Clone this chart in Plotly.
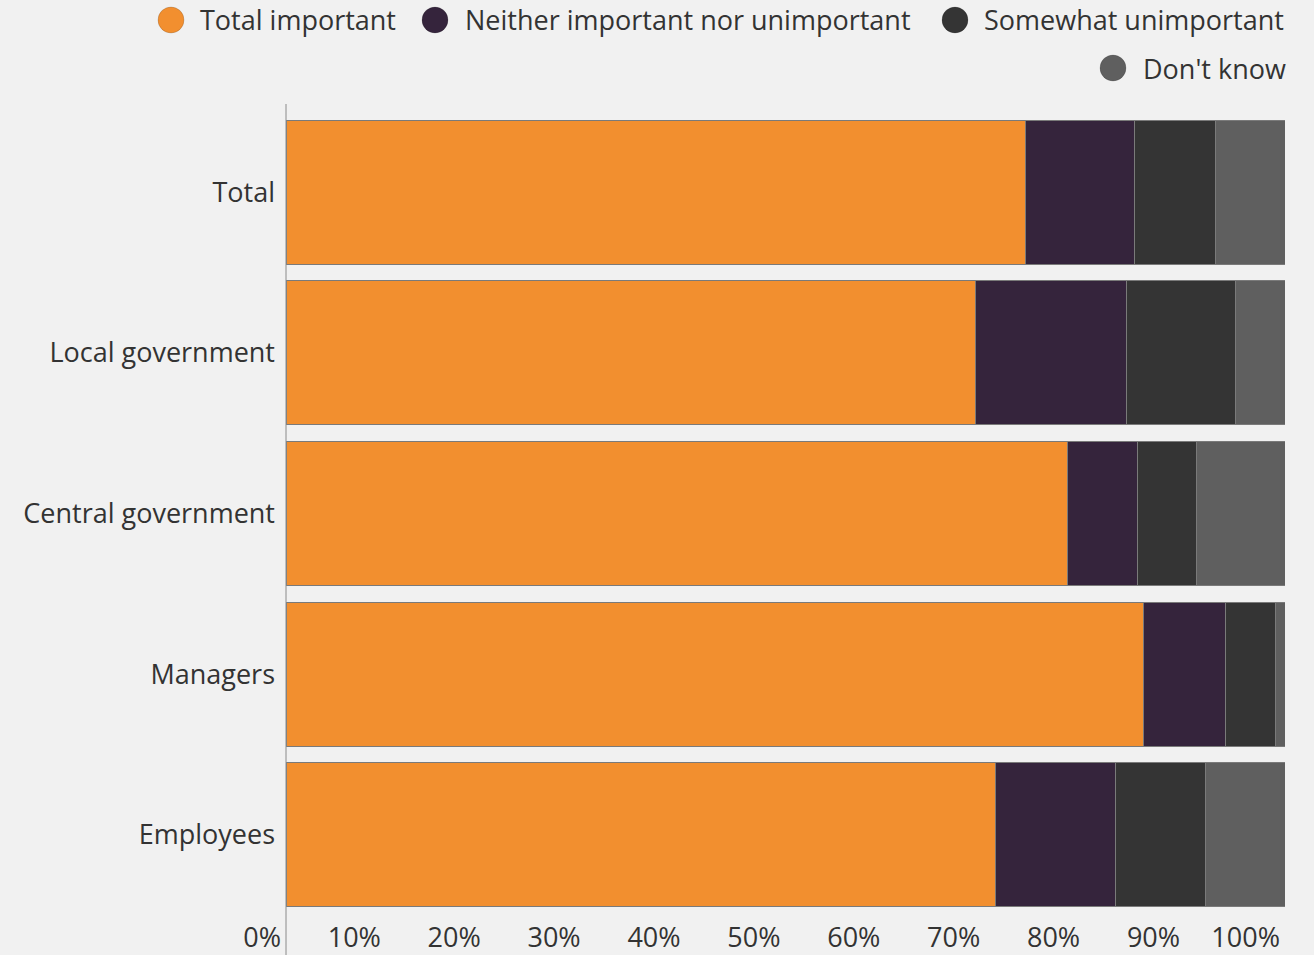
import plotly.graph_objects as go

categories = ["Total", "Local government", "Central government", "Managers", "Employees"]
series_names = ["Total important", "Neither important nor unimportant", "Somewhat unimportant", "Don't know"]
total_important = [74.0, 69.0, 78.2, 85.8, 71.0]
neither = [10.9, 15.1, 7.0, 8.2, 12.0]
somewhat_unimportant = [8.1, 10.9, 5.9, 5.0, 9.0]
dont_know = [7.0, 5.0, 8.9, 1.0, 8.0]
tick_values = [0, 10, 20, 30, 40, 50, 60, 70, 80, 90, 100]
tick_labels = ["0%", "10%", "20%", "30%", "40%", "50%", "60%", "70%", "80%", "90%", "100%"]

colors = ["#F28F2F", "#35243C", "#343434", "#5F5F5F"]
values = [total_important, neither, somewhat_unimportant, dont_know]

W, H = 1314, 955
ML, MR, MT, MB = 286, 29, 112, 40
PW, PH = W - ML - MR, H - MT - MB

def px_x(px):
    return (px - ML) / PW

def px_y(py):
    return (H - MB - py) / PH

fig = go.Figure()
for name, vals, col in zip(series_names, values, colors):
    fig.add_trace(go.Bar(
        y=categories, x=vals, name=name, orientation="h",
        marker=dict(color=col, line=dict(color="#7a7a7a", width=1)),
        showlegend=False, hoverinfo="x+y+name",
    ))

font_family = "Open Sans, Noto Sans, sans-serif"
text_color = "#333333"
FS = 27

# custom legend (circle markers, right-aligned wrapped rows)
legend_items = [
    (171, 20, 198),
    (435, 20, 463),
    (955, 20, 982),
    (1113, 68, 1141),
]
shapes = []
annotations = []
for (cx, cy, tx), name, col in zip(legend_items, series_names, colors):
    shapes.append(dict(
        type="circle", xref="paper", yref="paper",
        xsizemode="pixel", ysizemode="pixel",
        xanchor=px_x(cx), yanchor=px_y(cy),
        x0=-13, x1=13, y0=-13, y1=13,
        fillcolor=col, line=dict(color="rgba(0,0,0,0.15)", width=1),
    ))
    annotations.append(dict(
        text=name, xref="paper", yref="paper",
        x=px_x(tx), y=px_y(cy), xanchor="left", yanchor="middle",
        showarrow=False, font=dict(family=font_family, size=FS, color=text_color),
    ))

# vertical axis line extending beyond plot area
shapes.append(dict(
    type="line", xref="paper", yref="paper",
    x0=0, x1=0, y0=px_y(104), y1=px_y(955),
    line=dict(color="#8a8a8a", width=1),
))

fig.update_layout(
    barmode="stack",
    bargap=0.104,
    width=W, height=H,
    margin=dict(l=ML, r=MR, t=MT, b=MB, pad=0, autoexpand=False),
    paper_bgcolor="#f1f1f1",
    plot_bgcolor="rgba(0,0,0,0)",
    font=dict(family=font_family, size=FS, color=text_color),
    showlegend=False,
    shapes=shapes,
    annotations=annotations,
    xaxis=dict(
        range=[0, 100], tickvals=tick_values, ticktext=tick_labels,
        showgrid=False, zeroline=False, showline=False, automargin=False,
        ticks="", ticklabelposition="outside left",
        ticklabelshift=-5, ticklabelstandoff=4,
        tickfont=dict(size=FS, color=text_color), fixedrange=True,
    ),
    yaxis=dict(
        autorange="reversed", showgrid=False, zeroline=False, showline=False,
        automargin=False,
        ticks="", ticklabelstandoff=10,
        tickfont=dict(size=FS, color=text_color), fixedrange=True,
    ),
)

fig.write_html("out.html")
